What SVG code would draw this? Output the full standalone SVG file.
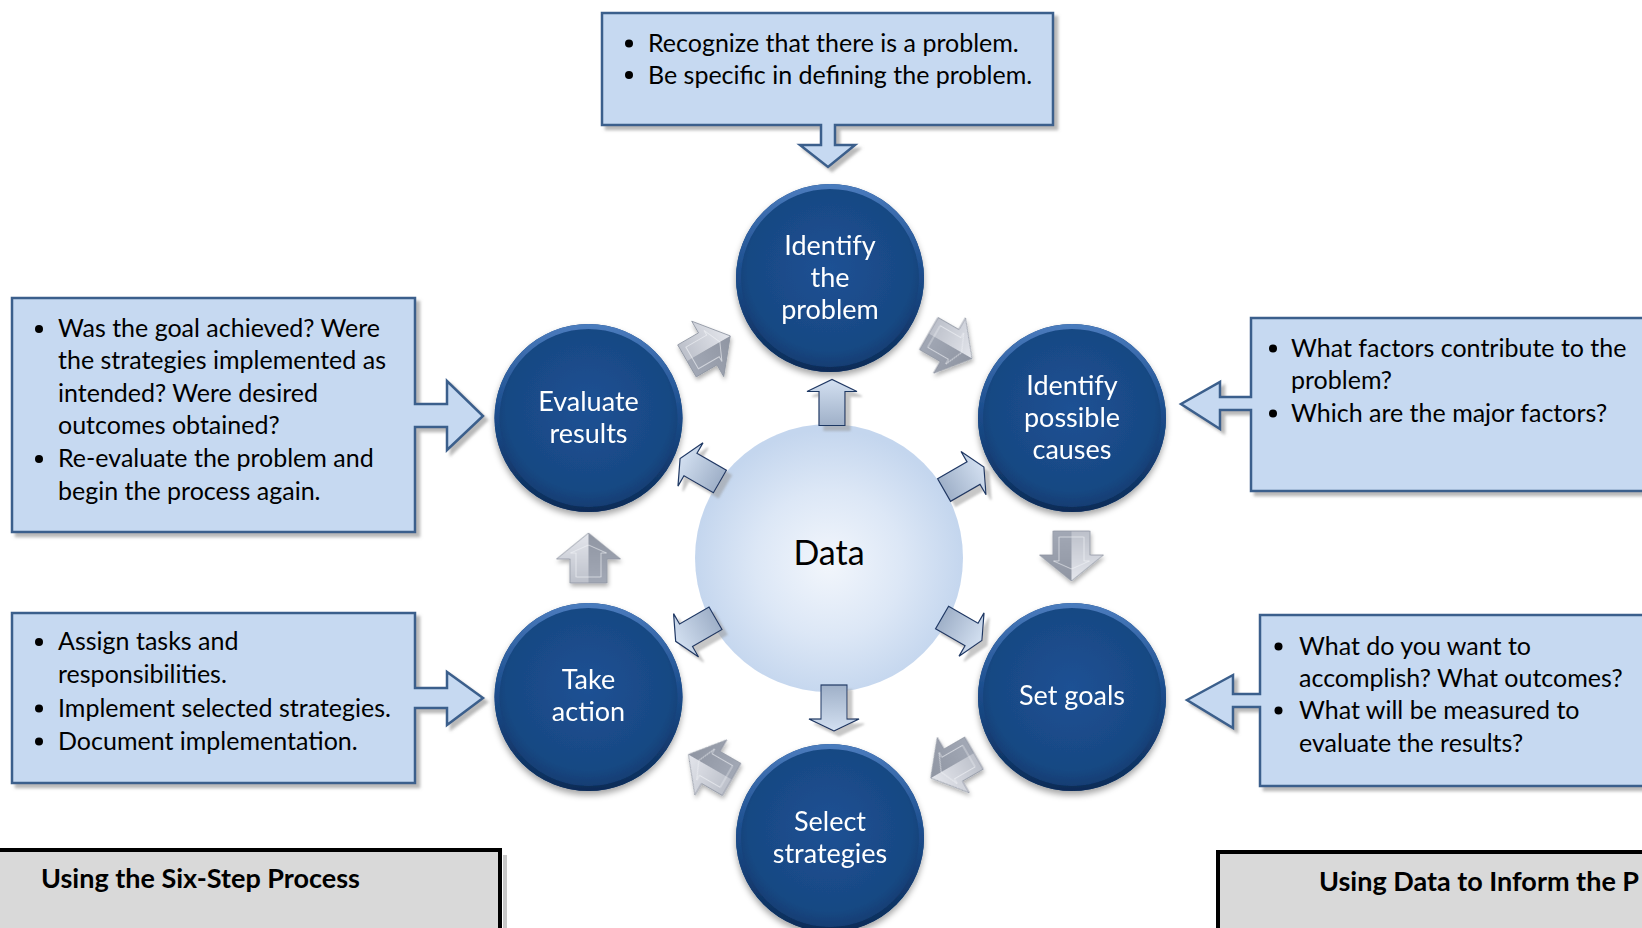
<svg xmlns="http://www.w3.org/2000/svg" width="1642" height="928" viewBox="0 0 1642 928">
  <style>
    .callout { fill: #c6d9f1; stroke: #3b5f8c; stroke-width: 2.5; stroke-linejoin: miter; }
    .txt { font-family: Lato, "Open Sans", sans-serif; font-size: 25px; fill: #000; }
    .ctxt { font-family: Lato, "Open Sans", sans-serif; font-size: 27px; fill: #fff; text-anchor: middle; }
    .title { font-family: Lato, "Open Sans", sans-serif; font-size: 27px; font-weight: bold; fill: #000; }
    .bul { fill: #000; }
    .panel { fill: #d9d9d9; stroke: #000; stroke-width: 4; }
  </style>
  <defs>
    <filter id="boxShadow" x="-5%" y="-5%" width="115%" height="120%">
      <feDropShadow dx="4" dy="4" stdDeviation="1.5" flood-color="#7f7f7f" flood-opacity="0.55"/>
    </filter>
    <filter id="circShadow" x="-20%" y="-20%" width="140%" height="150%">
      <feDropShadow dx="0" dy="4" stdDeviation="3" flood-color="#000" flood-opacity="0.35"/>
    </filter>
    <filter id="arrShadow" x="-30%" y="-30%" width="170%" height="170%">
      <feDropShadow dx="5" dy="5" stdDeviation="1.2" flood-color="#9a9a9a" flood-opacity="0.55"/>
    </filter>
    <filter id="grayShadow" x="-30%" y="-30%" width="170%" height="170%">
      <feDropShadow dx="1" dy="3" stdDeviation="2" flood-color="#000" flood-opacity="0.3"/>
    </filter>
    <radialGradient id="navy" cx="50%" cy="45%" r="55%">
      <stop offset="0" stop-color="#1d5194"/>
      <stop offset="0.8" stop-color="#184883"/>
      <stop offset="1" stop-color="#123a6e"/>
    </radialGradient>
    <linearGradient id="rim" x1="0" y1="0" x2="0" y2="1">
      <stop offset="0" stop-color="#4a7bbd"/>
      <stop offset="0.45" stop-color="#1c4e8e"/>
      <stop offset="1" stop-color="#0c2c58"/>
    </linearGradient>
    <radialGradient id="dataFill" cx="50%" cy="52%" r="50%">
      <stop offset="0" stop-color="#f2f6fc"/>
      <stop offset="0.55" stop-color="#dce7f6"/>
      <stop offset="1" stop-color="#c4d6ee"/>
    </radialGradient>
    <linearGradient id="dArrow" x1="0" y1="0" x2="1" y2="0">
      <stop offset="0" stop-color="#9fb0c8"/>
      <stop offset="1" stop-color="#d3e0f1"/>
    </linearGradient>
    <linearGradient id="gLight" x1="0" y1="0" x2="1" y2="0">
      <stop offset="0" stop-color="#bcc0ca"/>
      <stop offset="1" stop-color="#e4e6ec"/>
    </linearGradient>
    <linearGradient id="gDark" x1="0" y1="0" x2="1" y2="0">
      <stop offset="0" stop-color="#a2a8b5"/>
      <stop offset="1" stop-color="#8f95a2"/>
    </linearGradient>
    <!-- bevelled gray cycle arrow, pointing right, centred on origin -->
    <g id="grayArrow">
      <polygon points="-25,-18.5 -1,-18.5 -1,-32 25,0 -25,0" fill="url(#gLight)"/>
      <polygon points="-25,0 25,0 -1,32 -1,18.5 -25,18.5" fill="url(#gDark)"/>
      <polygon points="-19,-12.5 5,-12.5 5,-18 13,0 5,18 5,12.5 -19,12.5" fill="none" stroke="#f4f5f8" stroke-width="1" stroke-opacity="0.6"/>
      <polygon points="-25,-18.5 -1,-18.5 -1,-32 25,0 -1,32 -1,18.5 -25,18.5" fill="none" stroke="#8f95a2" stroke-width="0.8"/>
    </g>
    <!-- outlined light-blue arrow from the data hub, pointing right -->
    <polygon id="dataArrow" points="-23,-13 11,-13 11,-25 23,0 11,25 11,13 -23,13" fill="url(#dArrow)" stroke="#1f3864" stroke-width="1.2"/>
  </defs>

  <rect width="1642" height="928" fill="#fff"/>

  <!-- callout boxes -->
  <g id="box-problem" filter="url(#boxShadow)">
    <path class="callout" d="M602,13 H1053 V125 H835 V145 H855 L828,167 L800,145 H821 V125 H602 Z"/>
  </g>
  <g id="box-problem-text">
    <circle class="bul" cx="629" cy="43.5" r="4"/>
    <text class="txt" x="648" y="52">Recognize that there is a problem.</text>
    <circle class="bul" cx="629" cy="75" r="4"/>
    <text class="txt" x="648" y="83.5">Be specific in defining the problem.</text>
  </g>

  <g id="box-evaluate" filter="url(#boxShadow)">
    <path class="callout" d="M12,298 H415 V404 H447 V381 L483,416 L447,450 V427 H415 V532 H12 Z"/>
  </g>
  <g id="box-evaluate-text">
    <circle class="bul" cx="39" cy="329" r="4"/>
    <text class="txt" x="58" y="337">Was the goal achieved? Were</text>
    <text class="txt" x="58" y="369">the strategies implemented as</text>
    <text class="txt" x="58" y="402">intended? Were desired</text>
    <text class="txt" x="58" y="434">outcomes obtained?</text>
    <circle class="bul" cx="39" cy="459" r="4"/>
    <text class="txt" x="58" y="467">Re-evaluate the problem and</text>
    <text class="txt" x="58" y="500">begin the process again.</text>
  </g>

  <g id="box-action" filter="url(#boxShadow)">
    <path class="callout" d="M12,613 H415 V688 H447 V672 L483,698 L447,725 V708 H415 V783 H12 Z"/>
  </g>
  <g id="box-action-text">
    <circle class="bul" cx="39" cy="642" r="4"/>
    <text class="txt" x="58" y="650">Assign tasks and</text>
    <text class="txt" x="58" y="683">responsibilities.</text>
    <circle class="bul" cx="39" cy="708.5" r="4"/>
    <text class="txt" x="58" y="717">Implement selected strategies.</text>
    <circle class="bul" cx="39" cy="741.5" r="4"/>
    <text class="txt" x="58" y="750">Document implementation.</text>
  </g>

  <g id="box-causes" filter="url(#boxShadow)">
    <path class="callout" d="M1251,318 H1660 V491 H1251 V410 H1220 V429 L1181,404 L1220,382 V397 H1251 Z"/>
  </g>
  <g id="box-causes-text">
    <circle class="bul" cx="1273" cy="348.5" r="4"/>
    <text class="txt" x="1291" y="357">What factors contribute to the</text>
    <text class="txt" x="1291" y="389">problem?</text>
    <circle class="bul" cx="1273" cy="413.5" r="4"/>
    <text class="txt" x="1291" y="422">Which are the major factors?</text>
  </g>

  <g id="box-goals" filter="url(#boxShadow)">
    <path class="callout" d="M1260,615 H1660 V786 H1260 V707 H1233 V728 L1187,700 L1233,675 V694 H1260 Z"/>
  </g>
  <g id="box-goals-text">
    <circle class="bul" cx="1278.5" cy="646.5" r="4"/>
    <text class="txt" x="1299" y="655">What do you want to</text>
    <text class="txt" x="1299" y="687">accomplish? What outcomes?</text>
    <circle class="bul" cx="1278.5" cy="710.5" r="4"/>
    <text class="txt" x="1299" y="719">What will be measured to</text>
    <text class="txt" x="1299" y="752">evaluate the results?</text>
  </g>

  <!-- lower panels -->
  <g id="panel-six-step">
    <rect x="503" y="855" width="4" height="80" fill="#c8c8c8"/>
    <rect class="panel" x="-10" y="850" width="510" height="100"/>
    <text class="title" x="41" y="888">Using the Six-Step Process</text>
  </g>
  <g id="panel-data">
    <rect class="panel" x="1218" y="852" width="440" height="100"/>
    <text class="title" x="1319" y="891">Using Data to Inform the P</text>
  </g>

  <!-- central data hub -->
  <g id="data">
    <circle cx="829" cy="558" r="134" fill="url(#dataFill)"/>
    <text x="829" y="565" text-anchor="middle" font-family="Lato, 'Open Sans', sans-serif" font-size="34" fill="#000">Data</text>
  </g>

  <!-- step nodes -->
  <g id="step-identify-problem" filter="url(#circShadow)">
    <circle cx="830" cy="278" r="94" fill="url(#navy)"/>
    <circle cx="830" cy="278" r="91.5" fill="none" stroke="url(#rim)" stroke-width="5"/>
    <text class="ctxt" x="830" y="255">Identify</text>
    <text class="ctxt" x="830" y="287">the</text>
    <text class="ctxt" x="830" y="319">problem</text>
  </g>
  <g id="step-identify-causes" filter="url(#circShadow)">
    <circle cx="1072" cy="418" r="94" fill="url(#navy)"/>
    <circle cx="1072" cy="418" r="91.5" fill="none" stroke="url(#rim)" stroke-width="5"/>
    <text class="ctxt" x="1072" y="395">Identify</text>
    <text class="ctxt" x="1072" y="427">possible</text>
    <text class="ctxt" x="1072" y="459">causes</text>
  </g>
  <g id="step-set-goals" filter="url(#circShadow)">
    <circle cx="1072" cy="697" r="94" fill="url(#navy)"/>
    <circle cx="1072" cy="697" r="91.5" fill="none" stroke="url(#rim)" stroke-width="5"/>
    <text class="ctxt" x="1072" y="705">Set goals</text>
  </g>
  <g id="step-select-strategies" filter="url(#circShadow)">
    <circle cx="830" cy="838" r="94" fill="url(#navy)"/>
    <circle cx="830" cy="838" r="91.5" fill="none" stroke="url(#rim)" stroke-width="5"/>
    <text class="ctxt" x="830" y="831">Select</text>
    <text class="ctxt" x="830" y="863">strategies</text>
  </g>
  <g id="step-take-action" filter="url(#circShadow)">
    <circle cx="588.5" cy="697" r="94" fill="url(#navy)"/>
    <circle cx="588.5" cy="697" r="91.5" fill="none" stroke="url(#rim)" stroke-width="5"/>
    <text class="ctxt" x="588.5" y="689">Take</text>
    <text class="ctxt" x="588.5" y="721">action</text>
  </g>
  <g id="step-evaluate" filter="url(#circShadow)">
    <circle cx="588.5" cy="418" r="94" fill="url(#navy)"/>
    <circle cx="588.5" cy="418" r="91.5" fill="none" stroke="url(#rim)" stroke-width="5"/>
    <text class="ctxt" x="588.5" y="411">Evaluate</text>
    <text class="ctxt" x="588.5" y="443">results</text>
  </g>

  <!-- connectors: cycle arrows and data arrows -->
  <g id="connectors">
    <g filter="url(#grayShadow)">
      <use href="#grayArrow" transform="translate(708.6,348.4) rotate(-30)"/>
      <use href="#grayArrow" transform="translate(950.4,346) rotate(30)"/>
      <use href="#grayArrow" transform="translate(1071.5,556) rotate(90)"/>
      <use href="#grayArrow" transform="translate(952.4,765.6) rotate(150)"/>
      <use href="#grayArrow" transform="translate(710,767) rotate(210)"/>
      <use href="#grayArrow" transform="translate(588.5,558) rotate(-90)"/>
    </g>
    <g filter="url(#arrShadow)">
      <use href="#dataArrow" transform="translate(832,402.5) rotate(-90)"/>
      <use href="#dataArrow" transform="translate(964,478.6) rotate(-30)"/>
      <use href="#dataArrow" transform="translate(962,629) rotate(30)"/>
      <use href="#dataArrow" transform="translate(834,708) rotate(90)"/>
      <use href="#dataArrow" transform="translate(695.6,629.8) rotate(150)"/>
      <use href="#dataArrow" transform="translate(700,470) rotate(210)"/>
    </g>
  </g>
</svg>
